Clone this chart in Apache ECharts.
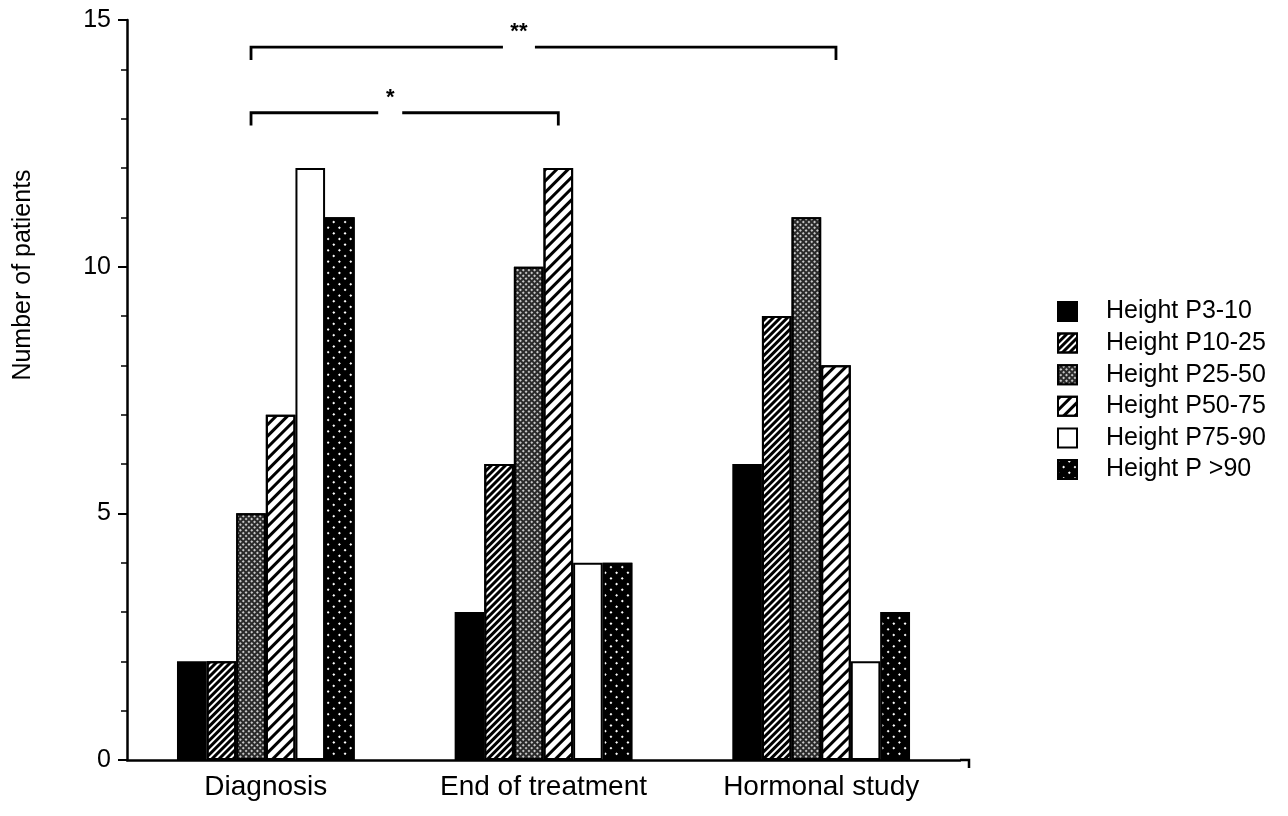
<!DOCTYPE html>
<html><head><meta charset="utf-8">
<script src="https://cdn.jsdelivr.net/npm/echarts@6/dist/echarts.min.js"></script>
<style>html,body{margin:0;padding:0;background:#fff}#c{width:1288px;height:816px}</style>
</head><body><div id="c"></div>
<script>
const categories = ['Diagnosis', 'End of treatment', 'Hormonal study'];
const seriesNames = ['Height P3-10', 'Height P10-25', 'Height P25-50', 'Height P50-75', 'Height P75-90', 'Height P >90'];
const p3_10 = [2, 3, 6];
const p10_25 = [2, 6, 9];
const p25_50 = [5, 10, 11];
const p50_75 = [7, 12, 8];
const p75_90 = [12, 4, 2];
const p90plus = [11, 4, 3];
const yTickLabels = [0, 5, 10, 15];
const yAxisTitle = 'Number of patients';
// significance brackets: from category/bar slot to category/bar slot, at y value
const bracketFrom = [[0, 2], [0, 2]];
const bracketTo = [[2, 3], [1, 3]];
const bracketY = [14.45, 13.12];
const bracketLabels = ['**', '*'];

const seriesData = [p3_10, p10_25, p25_50, p50_75, p75_90, p90plus];
const K = '#000', W = '#fff';
const looks = [
  { color: K, decal: null },
  { color: W, decal: { symbol: 'rect', color: K, dashArrayX: [1, 0], dashArrayY: [2.4, 1.5], rotation: -Math.PI / 4 } },
  { color: '#2a2a2a', decal: { symbol: 'rect', color: '#c8c8c8', dashArrayX: [1.3, 1.7], dashArrayY: [1.3, 1.7], rotation: Math.PI / 4 } },
  { color: W, decal: { symbol: 'rect', color: K, dashArrayX: [1, 0], dashArrayY: [3, 4.6], rotation: -Math.PI / 4 } },
  { color: W, decal: null },
  { color: K, decal: { symbol: 'rect', color: W, dashArrayX: [1.6, 6], dashArrayY: [1.6, 6], rotation: Math.PI / 4 } }
];
const CAT_GAP = 0.36;
const FONT = 'Liberation Sans';

const chart = echarts.init(document.getElementById('c'), null, { renderer: 'canvas' });
const option = {
  animation: false,
  backgroundColor: '#fff',
  textStyle: { fontFamily: FONT, color: '#000' },
  grid: { left: 127, right: 328, top: 20, bottom: 56, containLabel: false },
  legend: {
    orient: 'vertical', left: 1057, top: 299, padding: 0,
    itemWidth: 19, itemHeight: 19, itemGap: 6.6,
    icon: 'rect',
    textStyle: { fontFamily: FONT, fontSize: 25, color: '#000', padding: [0, 0, 0, 24] },
    data: seriesNames
  },
  xAxis: {
    type: 'category', data: categories,
    axisLine: { lineStyle: { color: '#000', width: 2.5 } },
    axisTick: { show: false },
    axisLabel: { fontFamily: FONT, fontSize: 28, color: '#000', margin: 13 },
    splitLine: { show: false }
  },
  yAxis: {
    type: 'value', min: 0, max: 15, interval: 5,
    axisLine: { show: true, lineStyle: { color: '#000', width: 2.5 } },
    axisTick: { show: true, length: 9, lineStyle: { color: '#000', width: 2 } },
    minorTick: { show: true, splitNumber: 5, length: 6, lineStyle: { color: '#000', width: 1.5 } },
    axisLabel: { fontFamily: FONT, fontSize: 25, color: '#000', margin: 16,
      formatter: v => yTickLabels.indexOf(v) >= 0 ? String(v) : '' },
    splitLine: { show: false }
  },
  series: seriesData.map((d, i) => {
    const itemStyle = { color: looks[i].color, borderColor: K, borderWidth: 2 };
    if (looks[i].decal) itemStyle.decal = looks[i].decal;
    return {
      name: seriesNames[i], type: 'bar', data: d,
      barGap: '0%', barCategoryGap: (CAT_GAP * 100) + '%',
      itemStyle: itemStyle
    };
  })
};
chart.setOption(option);

function barCenter(cat, slot) {
  const c0 = chart.convertToPixel({ xAxisIndex: 0 }, categories[0]);
  const c1 = chart.convertToPixel({ xAxisIndex: 0 }, categories[1]);
  const c = chart.convertToPixel({ xAxisIndex: 0 }, categories[cat]);
  const groupW = (c1 - c0) * (1 - CAT_GAP);
  const bw = groupW / seriesNames.length;
  return c - groupW / 2 + bw * (slot + 0.5);
}
const y0 = chart.convertToPixel({ yAxisIndex: 0 }, 0);
const y15 = chart.convertToPixel({ yAxisIndex: 0 }, 15);
const unit = (y0 - y15) / 15;
const graphics = [];
const labelFrac = [0.458, 0.453];
const gapHalf = [16, 12];
bracketLabels.forEach((lab, i) => {
  const x1 = barCenter(bracketFrom[i][0], bracketFrom[i][1]);
  const x2 = barCenter(bracketTo[i][0], bracketTo[i][1]);
  const yl = chart.convertToPixel({ yAxisIndex: 0 }, bracketY[i]);
  const yd = yl + unit * 0.26;
  const xs = x1 + (x2 - x1) * labelFrac[i];
  graphics.push({ type: 'polyline', shape: { points: [[x1, yd], [x1, yl], [xs - gapHalf[i], yl]] }, style: { stroke: K, lineWidth: 2.8, fill: null } });
  graphics.push({ type: 'polyline', shape: { points: [[xs + gapHalf[i], yl], [x2, yl], [x2, yd]] }, style: { stroke: K, lineWidth: 2.8, fill: null } });
  graphics.push({ type: 'text', x: xs, y: yl - 4, style: { text: lab, fontFamily: FONT, fontSize: 22, fontWeight: 'bold', fill: K, align: 'center', verticalAlign: 'bottom' } });
});
// x axis line continues slightly past the last category band, ending with a small downward tick
const gridRight = chart.convertToPixel({ xAxisIndex: 0 }, categories[2]) + (chart.convertToPixel({ xAxisIndex: 0 }, categories[2]) - chart.convertToPixel({ xAxisIndex: 0 }, categories[1])) / 2;
graphics.push({ type: 'polyline', shape: { points: [[gridRight, y0], [gridRight + 9, y0], [gridRight + 9, y0 + 8]] }, style: { stroke: K, lineWidth: 2.5, fill: null } });
// y axis title
graphics.push({ type: 'text', x: 23, y: 275, rotation: Math.PI / 2,
  style: { text: yAxisTitle, fontFamily: FONT, fontSize: 25, fill: K, align: 'center', verticalAlign: 'middle' } });
chart.setOption({ graphic: graphics });
</script>
</body></html>
